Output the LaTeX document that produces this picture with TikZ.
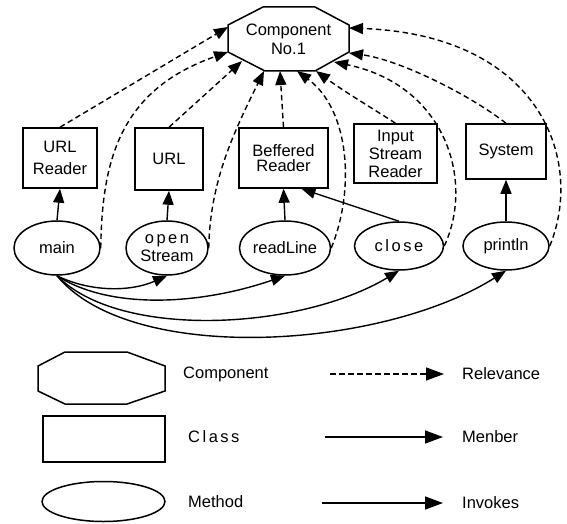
\documentclass[tikz,border=0pt]{standalone}
\usepackage{fontspec}
\setmainfont{Liberation Sans}
\usetikzlibrary{arrows.meta,shapes.geometric,calc}
\newcommand\sk{\kern2.5pt}
\tikzset{
  base/.style={font=\fontsize{16.5}{19}\selectfont, inner sep=0pt, align=center},
  shapeline/.style={line width=1.5pt},
  classbox/.style={base, shapeline, draw, rectangle},
  method/.style={base, shapeline, draw, ellipse},
  tip/.style={-{Triangle[length=14pt,width=11pt]}},
  bigtip/.style={-{Triangle[length=18pt,width=13pt]}},
  member/.style={line width=1.4pt, tip},
  invokes/.style={line width=1.4pt, tip},
  relevance/.style={line width=1.4pt, dash pattern=on 5.5pt off 3.5pt, tip},
  lbl/.style={base, anchor=west}
}
\begin{document}
\begin{tikzpicture}[x=1pt,y=-1pt]
\useasboundingbox (0,0) rectangle (567,524);

% component octagon
\draw[shapeline] (263,7)--(315,7)--(349,25)--(349,52)--(315,71)--(265,71)--(228,52)--(228,25)--cycle;
\node[base, minimum width=121pt, minimum height=64pt] (comp) at (288.5,39) {Component\\No.1};
\coordinate (t1) at (228,27);
\coordinate (t2) at (228,52);
\coordinate (t3) at (242,61);
\coordinate (t4) at (264,71);
\coordinate (t5) at (280,71);
\coordinate (t6) at (297,71);
\coordinate (t7) at (316,71);
\coordinate (t8) at (334,62);
\coordinate (t9) at (349,53);
\coordinate (t10) at (349,28);

% classes
\node[classbox, minimum width=74pt, minimum height=60pt] (urlr) at (60,158) {URL\\[3pt]Reader};
\node[classbox, minimum width=68pt, minimum height=62pt] (url) at (169,159) {URL};
\node[classbox, minimum width=89pt, minimum height=60pt] (bref) at (283.5,158) {\raisebox{2pt}{\parbox{80pt}{\centering Beffered\\[-4pt]Reader}}};
\node[classbox, minimum width=83pt, minimum height=59pt] (isr) at (395.5,153.5) {Input\\[-1pt]Stream\\[-1pt]Reader};
\node[classbox, minimum width=80pt, minimum height=55pt] (sys) at (506,151.5) {System};

% methods
\node[method, minimum width=86pt, minimum height=54pt] (main) at (57,248) {main};
\node[method, minimum width=82pt, minimum height=54pt] (open) at (167,248) {o\sk p\sk e\sk n\\[-1pt]Stream};
\node[method, minimum width=91pt, minimum height=54pt] (readline) at (285,248) {readLine};
\node[method, minimum width=89pt, minimum height=48pt] (close) at (399,246) {c\sk l\sk o\sk s\sk e};
\node[method, minimum width=86pt, minimum height=48pt] (print) at (506,246) {println};

% member
\draw[member] (main.north) -- (urlr.south);
\draw[member] (open.north) -- (url.south);
\draw[member] (readline.north) -- (bref.south);
\draw[member] (close.north) -- ([xshift=18pt]bref.south);
\draw[member] (print.north) -- (sys.south);

% invokes
\draw[invokes] (main.south) .. controls (90,292) and (130,292) .. (open.south);
\draw[invokes] (main.south) .. controls (110,310) and (200,305) .. (readline.south);
\draw[invokes] (main.south) .. controls (120,340) and (300,330) .. (close.south);
\draw[invokes] (main.south) .. controls (130,365) and (380,350) .. (print.south);

% relevance
\draw[relevance] (urlr.north) -- (t1);
\draw[relevance] (main.east) .. controls (102,160) and (120,90) .. (t2);
\draw[relevance] (url.north) -- (t3);
\draw[relevance] (open.east) .. controls (210,180) and (235,130) .. (t4);
\draw[relevance] (bref.north) -- (t5);
\draw[relevance] (readline.east) .. controls (355,190) and (350,110) .. (t6);
\draw[relevance] (isr.north) .. controls (375,110) and (345,92) .. (t7);
\draw[relevance] (close.east) .. controls (475,180) and (445,85) .. (t8);
\draw[relevance] (sys.north) .. controls (470,95) and (400,60) .. (t9);
\draw[relevance] (print.east) .. controls (585,160) and (540,35) .. (t10);

% legend
\draw[shapeline] (65,352)--(127,352)--(165,366)--(165,391)--(127,404)--(65,404)--(38,391)--(38,366)--cycle;
\node[lbl] (lcomp) at (183,374) {Component};
\coordinate (r1) at (330,374);
\coordinate (r2) at (444,374);
\draw[relevance, bigtip] (r1) -- (r2);
\node[lbl] (lrel) at (462,374) {Relevance};

\node[classbox, minimum width=122pt, minimum height=46pt] (lclass) at (104,439) {};
\node[lbl] (lcl) at (188,437) {C\sk l\sk a\sk s\sk s};
\coordinate (m1) at (325,437);
\coordinate (m2) at (443,437);
\draw[member, bigtip] (m1) -- (m2);
\node[lbl] (lmem) at (462,437) {Menber};

\node[method, minimum width=123pt, minimum height=40pt] (lmeth) at (103.5,501.5) {};
\node[lbl] (lme) at (188,502) {Method};
\coordinate (i1) at (322,503);
\coordinate (i2) at (443,503);
\draw[invokes, bigtip] (i1) -- (i2);
\node[lbl] (linv) at (462,503) {Invokes};
\end{tikzpicture}
\end{document}
